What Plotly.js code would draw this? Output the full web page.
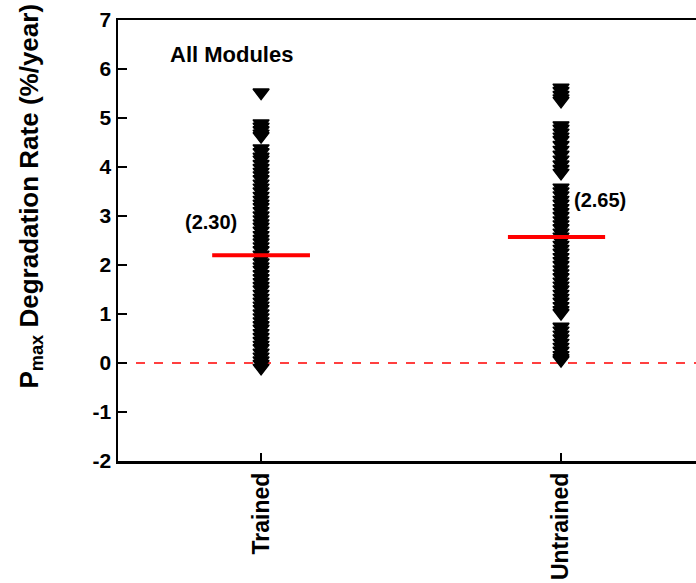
<!DOCTYPE html>
<html>
<head>
<meta charset="utf-8">
<script src="https://cdn.plot.ly/plotly-3.0.1.min.js"></script>
<style>html,body{margin:0;padding:0;background:#fff;overflow:hidden}</style>
</head>
<body>
<div id="chart" style="width:696px;height:583px"></div>
<script>
const categories = ['Trained', 'Untrained'];
const trainedRates = [5.52, 4.89, 4.82, 4.75, 4.68, 4.63, 4.38, 4.30, 4.21, 4.15, 4.06, 3.98, 3.90, 3.83, 3.75, 3.66, 3.58, 3.50, 3.41, 3.33, 3.25, 3.18, 3.10, 3.01, 2.93, 2.85, 2.78, 2.70, 2.61, 2.53, 2.46, 2.38, 2.30, 2.21, 2.13, 2.05, 1.97, 1.90, 1.81, 1.73, 1.65, 1.57, 1.50, 1.41, 1.33, 1.25, 1.17, 1.10, 1.01, 0.93, 0.85, 0.77, 0.70, 0.61, 0.53, 0.45, 0.37, 0.30, 0.21, 0.13, 0.05, -0.02, -0.10];
const untrainedRates = [5.62, 5.55, 5.47, 5.40, 5.35, 4.85, 4.78, 4.70, 4.62, 4.55, 4.45, 4.35, 4.25, 4.15, 4.05, 3.96, 3.88, 3.58, 3.50, 3.42, 3.33, 3.25, 3.16, 3.08, 3.00, 2.91, 2.83, 2.75, 2.66, 2.58, 2.50, 2.41, 2.33, 2.25, 2.16, 2.08, 2.00, 1.91, 1.83, 1.75, 1.66, 1.58, 1.50, 1.41, 1.33, 1.25, 1.16, 1.08, 1.02, 0.74, 0.66, 0.58, 0.50, 0.41, 0.33, 0.25, 0.16, 0.10, 0.06];
const meanLines = [2.20, 2.57];
const meanLabels = ['(2.30)', '(2.65)'];
const yTicks = [-2, -1, 0, 1, 2, 3, 4, 5, 6, 7];
const yTitle = 'P<sub>max</sub> Degradation Rate (%/year)';
const panelLabel = 'All Modules';

const FONT = 'Liberation Sans, Arial, sans-serif';
const seriesData = [trainedRates, untrainedRates];

const traces = [];
seriesData.forEach((vals, i) => {
  traces.push({
    type: 'scatter', mode: 'markers',
    x: vals.map(() => i), y: vals,
    marker: {symbol: 'triangle-down', size: 14, color: '#000', line: {color: '#000', width: 1.4}},
    hoverinfo: 'y', showlegend: false
  });
});
const halfLeft = [0.163, 0.177];
const halfRight = [0.163, 0.147];
meanLines.forEach((m, i) => {
  traces.push({
    type: 'scatter', mode: 'lines',
    x: [i - halfLeft[i], i + halfRight[i]], y: [m, m],
    line: {color: '#ff0000', width: 4},
    hoverinfo: 'skip', showlegend: false
  });
});

const annotations = [
  {x: -0.10, y: 6.29, xref: 'x', yref: 'y', text: '<b>' + panelLabel + '</b>', showarrow: false,
   font: {family: FONT, size: 22, color: '#000'}},
  {x: -0.167, y: 2.88, xref: 'x', yref: 'y', text: '<b>' + meanLabels[0] + '</b>', showarrow: false,
   font: {family: FONT, size: 20, color: '#000'}},
  {x: 1.13, y: 3.33, xref: 'x', yref: 'y', text: '<b>' + meanLabels[1] + '</b>', showarrow: false,
   font: {family: FONT, size: 20, color: '#000'}},
  {x: -0.152, y: 0.60, xref: 'paper', yref: 'paper', text: '<b>' + yTitle + '</b>', showarrow: false,
   textangle: -90, xanchor: 'center', yanchor: 'middle',
   font: {family: FONT, size: 26, color: '#000'}}
];

const layout = {
  width: 696, height: 583,
  margin: {l: 118, r: 0, t: 20, b: 122, pad: 0},
  paper_bgcolor: '#fff', plot_bgcolor: '#fff',
  font: {family: FONT, color: '#000'},
  xaxis: {
    range: [-0.477, 1.45],
    tickmode: 'array', tickvals: categories.map((c, i) => i), ticktext: categories.map(c => '<b>' + c + '</b>'),
    tickangle: -90, tickfont: {family: FONT, size: 23, color: '#000'},
    ticks: 'inside', ticklen: 8, tickwidth: 2, tickcolor: '#000',
    showline: true, linewidth: 2.5, linecolor: '#000', mirror: true,
    showgrid: false, zeroline: false
  },
  yaxis: {
    range: [-2, 7],
    tickmode: 'array', tickvals: yTicks, ticktext: yTicks.map(v => '<b>' + v + '</b>'),
    tickfont: {family: FONT, size: 21, color: '#000'},
    ticks: 'inside', ticklen: 9, tickwidth: 2, tickcolor: '#000',
    showline: true, linewidth: 2.5, linecolor: '#000', mirror: false,
    showgrid: false, zeroline: false
  },
  shapes: [
    {type: 'line', xref: 'paper', yref: 'y', x0: 0, x1: 1, y0: 0, y1: 0,
     line: {color: '#ff0000', width: 1.5, dash: 'dash'}, layer: 'below'}
  ],
  annotations: annotations,
  showlegend: false
};

Plotly.newPlot('chart', traces, layout, {displayModeBar: false, staticPlot: true});
</script>
</body>
</html>
